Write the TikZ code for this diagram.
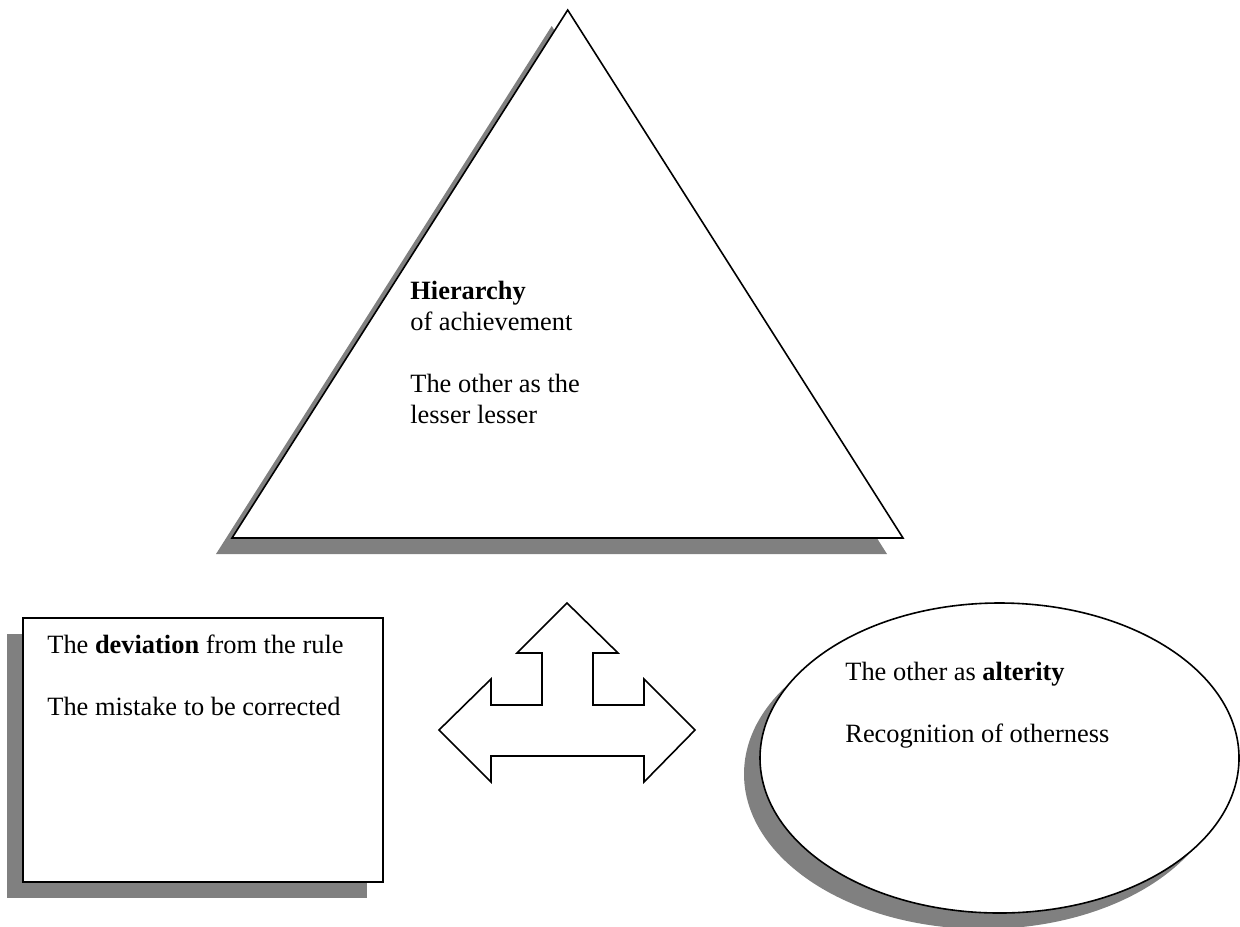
\documentclass[tikz,border=0pt]{standalone}
\usepackage{fontspec}
\setmainfont{Liberation Serif}
\usetikzlibrary{shapes.geometric,shadows}

\begin{document}
\begin{tikzpicture}[
        x=0.5pt, y=-0.5pt,
        outline/.style={draw, fill=white, line width=0.8pt},
        shade/.style={drop shadow={shadow xshift=-8pt, shadow yshift=-8pt, fill=black!50, opacity=1}},
        txt/.style={anchor=base west, inner sep=0pt, align=left, font=\fontsize{13.2}{15.5}\selectfont}
    ]
    \useasboundingbox (0,0) rectangle (1240,926);

    % Dreieck
    \draw[outline, shade] (567.7,10) -- (903,538) -- (232,538) -- cycle;
    \node[txt] (hier) at (410,423) {\textbf{Hierarchy}\\of achievement\\[15.5pt]The other as the\\lesser lesser};

    % Rechteck
    \node[outline, shade, line width=1pt, minimum width=180pt, minimum height=132pt] (box) at (203,750) {};
    \node[txt] (dev) at (47,715) {The \textbf{deviation} from the rule\\[15.5pt]The mistake to be corrected};

    % Ellipse
    \node[outline, shade, ellipse, inner sep=0pt, minimum width=239.5pt, minimum height=155pt] (oval) at (999.5,758) {};
    \node[txt] (alt) at (845,742) {The other as \textbf{alterity}\\[15.5pt]Recognition of otherness};

    % Pfeil
    \draw[line width=0.8pt, line join=miter] (567,603) -- (618,653) -- (593,653) -- (593,705) -- (644,705) -- (644,679)
        -- (695,730) -- (644,782) -- (644,756) -- (491,756) -- (491,782) -- (439,730) -- (491,679)
        -- (491,705) -- (542,705) -- (542,653) -- (517,653) -- cycle;
\end{tikzpicture}
\end{document}
